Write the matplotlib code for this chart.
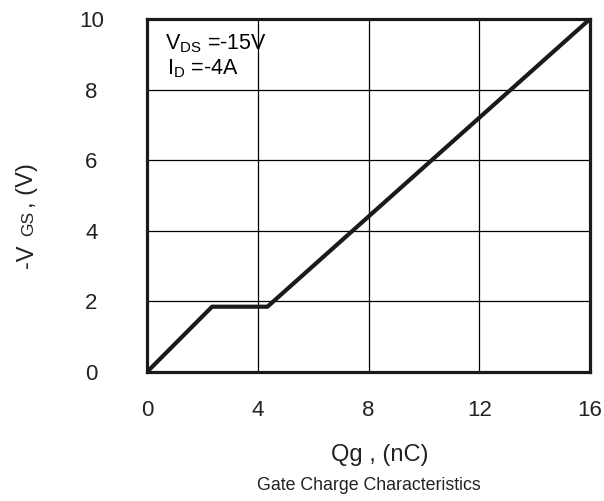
import matplotlib
matplotlib.use("Agg")
import matplotlib.pyplot as plt
from matplotlib import font_manager

plt.rcParams.update({
    "font.family": ["Liberation Sans", "DejaVu Sans"],
    "mathtext.fontset": "custom",
    "mathtext.rm": "Liberation Sans",
    "mathtext.it": "Liberation Sans",
})

# gate charge curve
qg = [0.0, 2.35, 4.35, 16.0]
vgs = [0.0, 1.85, 1.85, 10.0]

x_ticks = [0, 4, 8, 12, 16]
y_ticks = [0, 2, 4, 6, 8, 10]

# caption is set in a taller, narrower face than the rest
_names = {f.name for f in font_manager.fontManager.ttflist}
if "Liberation Sans Narrow" in _names:
    cap_font, cap_size = "Liberation Sans Narrow", 15.5
else:
    cap_font, cap_size = "Liberation Sans", 12.8

W, H = 604, 501
fig = plt.figure(figsize=(W / 100, H / 100), dpi=100)
ax = fig.add_axes([147 / W, 1 - 372 / H, 443 / W, 353 / H])

ax.plot(qg, vgs, color="#1a1a1a", lw=3.0, solid_capstyle="butt", zorder=3)

ax.set_xlim(0, 16)
ax.set_ylim(0, 10)
ax.set_xticks(x_ticks)
ax.set_yticks(y_ticks)
ax.grid(True, color="black", lw=0.9)
for s in ax.spines.values():
    s.set_linewidth(2.3)
    s.set_color("#1a1a1a")
ax.tick_params(length=0, labelsize=16, labelcolor="#222222")
ax.tick_params(axis="x", pad=20)
ax.tick_params(axis="y", pad=40)
for lab in ax.get_yticklabels():
    lab.set_horizontalalignment("center")

ax.text(165 / W, 1 - 49 / H, r"V$_{\mathregular{DS}}$ =-15V", transform=fig.transFigure,
        fontsize=15.5, va="baseline", ha="left")
ax.text(167 / W, 1 - 74 / H, r"I$_{\mathregular{D}}$ =-4A", transform=fig.transFigure,
        fontsize=15.5, va="baseline", ha="left")

# y label: "-V" + small "GS" + " , (V)", baseline on the right side
ylab = dict(rotation=90, rotation_mode="anchor", ha="left", va="baseline",
            color="#222222")
fig.text(33 / W, 1 - 268 / H, "-V", fontsize=17, **ylab)
fig.text(33 / W, 1 - 236 / H, "GS", fontsize=12.5, **ylab)
fig.text(33 / W, 1 - 208 / H, ", (V)", fontsize=17, **ylab)

fig.text(380 / W, 1 - 455 / H, "Qg , (nC)", fontsize=17, ha="center", va="center",
         color="#222222")
fig.text(369 / W, 1 - 486 / H, "Gate Charge Characteristics", family=cap_font,
         fontsize=cap_size, ha="center", va="center", color="#222222")

fig.savefig("out.png", dpi=100)
